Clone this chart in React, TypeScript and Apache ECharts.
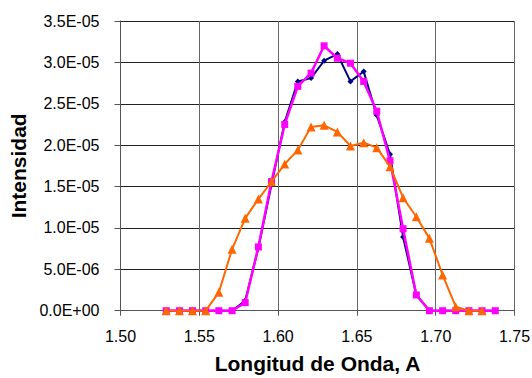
import React, { useEffect, useRef } from "react";
import * as echarts from "echarts";

const wavelengths = [
  1.529, 1.5374, 1.5457, 1.5541, 1.5624, 1.5708, 1.5791, 1.5875, 1.5958, 1.6042,
  1.6125, 1.6209, 1.6292, 1.6376, 1.6459, 1.6543, 1.6626, 1.671, 1.6793, 1.6877,
  1.696, 1.7044, 1.7127, 1.7211, 1.7294, 1.7378,
];

const navySeries = [
  0, 0, 0, 0, 0, 0, 1.2e-6, 7.6e-6, 15.2e-6, 22.8e-6,
  27.7e-6, 28.1e-6, 30.2e-6, 31.0e-6, 27.7e-6, 28.9e-6, 23.6e-6, 18.9e-6, 8.9e-6, 1.9e-6,
  0, 0, 0, 0, 0, 0,
];

const magentaSeries = [
  0, 0, 0, 0, 0, 0, 0.97e-6, 7.7e-6, 15.6e-6, 22.5e-6,
  27.1e-6, 28.7e-6, 32.0e-6, 30.5e-6, 29.9e-6, 27.7e-6, 24.1e-6, 18.1e-6, 9.9e-6, 1.9e-6,
  0, 0, 0, 0, 0, 0,
];

const orangeSeries = [
  0, 0, 0, 0, 2.22e-6, 7.42e-6, 11.16e-6, 13.49e-6, 15.58e-6, 17.72e-6,
  19.4e-6, 22.2e-6, 22.4e-6, 21.6e-6, 19.9e-6, 20.3e-6, 19.7e-6, 17.4e-6, 13.65e-6, 11.35e-6,
  8.74e-6, 4.31e-6, 0.48e-6, 0, 0,
];

const xTitle = "Longitud de Onda, A";
const yTitle = "Intensidad";

function fmtExp(v: number): string {
  const s = v.toExponential(1);
  const [m, e] = s.split("e");
  const sign = e.startsWith("-") ? "-" : "+";
  const digits = e.replace(/[+-]/, "").padStart(2, "0");
  return `${m}E${sign}${digits}`;
}

function pairs(ys: number[]) {
  return ys.map((y, i) => [wavelengths[i], y]);
}

export default function App() {
  const ref = useRef<HTMLDivElement>(null);
  useEffect(() => {
    if (!ref.current) return;
    const chart = echarts.init(ref.current, null, { renderer: "svg" });
    const font = "Liberation Sans, Arial, sans-serif";
    chart.setOption({
      animation: false,
      backgroundColor: "#ffffff",
      grid: {
        left: 120.5,
        right: 17.5,
        top: 21,
        bottom: 67.3,
        containLabel: false,
        outerBoundsMode: "none",
      },
      xAxis: {
        type: "value",
        min: 1.5,
        max: 1.75,
        interval: 0.05,
        name: xTitle,
        nameLocation: "middle",
        nameGap: 42,
        nameTextStyle: { fontFamily: font, fontSize: 21, fontWeight: "bold", color: "#000" },
        axisLine: { show: true, onZero: false, lineStyle: { color: "#555", width: 1 } },
        axisTick: { show: true, inside: false, length: 5, lineStyle: { color: "#555" } },
        axisLabel: {
          fontFamily: font,
          fontSize: 16,
          color: "#000",
          margin: 18,
          formatter: (v: number) => v.toFixed(2),
        },
        splitLine: { show: true, lineStyle: { color: "#666", width: 1 } },
      },
      yAxis: {
        type: "value",
        min: 0,
        max: 3.5e-5,
        interval: 5e-6,
        name: yTitle,
        nameLocation: "middle",
        nameGap: 87,
        nameTextStyle: { fontFamily: font, fontSize: 21, fontWeight: "bold", color: "#000" },
        axisLine: { show: true, lineStyle: { color: "#555", width: 1 } },
        axisTick: { show: true, inside: false, length: 6, lineStyle: { color: "#555" } },
        axisLabel: {
          fontFamily: font,
          fontSize: 16,
          color: "#000",
          margin: 21,
          formatter: (v: number) => fmtExp(v),
        },
        splitLine: { show: true, lineStyle: { color: "#222", width: 1 } },
      },
      series: [
        {
          type: "line",
          data: pairs(navySeries),
          symbol: "diamond",
          symbolSize: 6,
          lineStyle: { color: "#000080", width: 2 },
          itemStyle: { color: "#000080" },
          z: 2,
        },
        {
          type: "line",
          data: pairs(magentaSeries),
          symbol: "rect",
          symbolSize: 7,
          lineStyle: { color: "#ff00ff", width: 2.5 },
          itemStyle: { color: "#ff00ff" },
          z: 3,
        },
        {
          type: "line",
          data: pairs(orangeSeries),
          symbol: "triangle",
          symbolSize: 9,
          lineStyle: { color: "#ff6600", width: 2 },
          itemStyle: { color: "#ff6600" },
          z: 4,
        },
      ],
    });
    return () => chart.dispose();
  }, []);
  return <div ref={ref} style={{ width: 532, height: 378, position: "absolute", left: 0, top: 0 }} />;
}
